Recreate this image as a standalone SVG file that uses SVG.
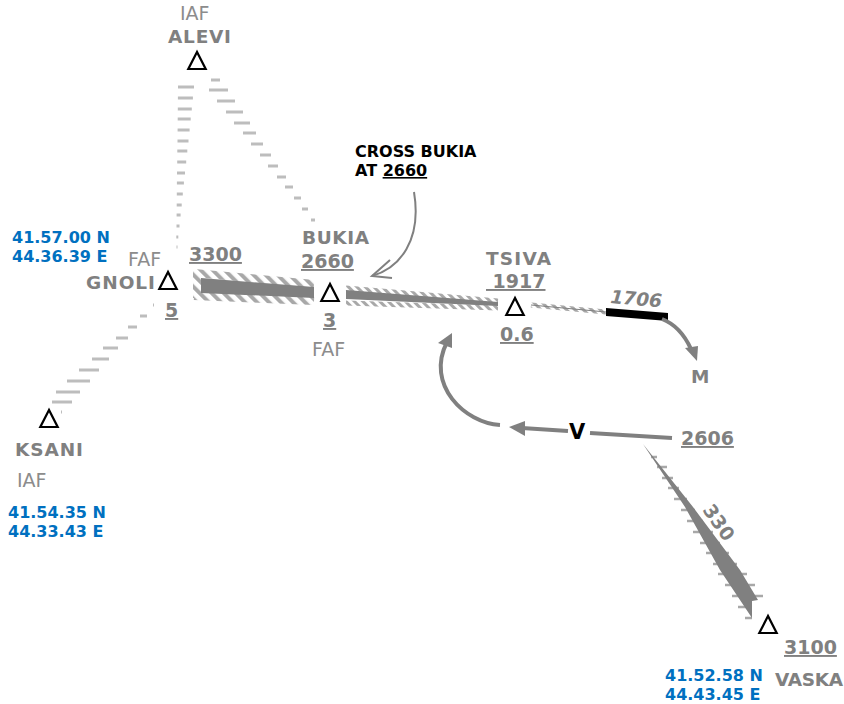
<svg xmlns="http://www.w3.org/2000/svg" width="844" height="704" viewBox="0 0 844 704">
<style>
text{font-family:"DejaVu Sans",Verdana,sans-serif;fill:#808080}
.b{font-weight:bold;font-size:18.5px}
.r{font-size:19px;fill:#8c8c8c}
.u{font-weight:bold;font-size:19px;text-decoration:underline}
.c{font-weight:bold;font-size:16px;fill:#0070c0}
.k{font-weight:bold;font-size:16px;fill:#000}
.t{fill:none;stroke:#000;stroke-width:2.2}
.d{fill:none;stroke:#bdbdbd;stroke-width:3.2}
.g{fill:#808080}
.l{fill:none;stroke:#808080;stroke-linecap:butt}
</style>
<defs>
<pattern id="hatch" width="8.5" height="8.5" patternUnits="userSpaceOnUse" patternTransform="rotate(-45)">
<rect width="4" height="8.5" fill="#a8a8a8"/>
</pattern>
<pattern id="hatch2" width="6" height="6" patternUnits="userSpaceOnUse" patternTransform="rotate(-45)">
<rect width="3" height="6" fill="#a8a8a8"/>
</pattern>
<filter id="soft" x="-5%" y="-20%" width="110%" height="140%"><feGaussianBlur stdDeviation="0.5"/></filter>
<path id="tri" class="t" d="M0,-17 L-8.7,0 H8.7 Z"/>
</defs>
<g id="connectors">
<path class="d" d="M178,87h16M177.9,98h15M177.8,109h14M177.7,119h13M177.6,130h12M177.5,141h11M177.3,151h10M177.2,162h9M177,173h8M176.9,183h7M176.8,194h6M176.7,205h5M176.6,215h4M176.5,226h3M176.3,237h2M176.5,247h1"/>
<path class="d" d="M211,80h9M209,90h19M217,101h18M226,112h17M234,123h16M243,133h13M251,144h12M260,155h11M268,166h10M277,177h9M285,187h8M294,198h7M302,209h6M311,220h4"/>
<path class="d" d="M153,305h1M140,316h7M128,327h9M116,338h12M103,348h15M92,359h17M79,370h20M67,381h23M56,392h24M52,402h20M61,412h1"/>
<g filter="url(#soft)">
<path fill="none" stroke="url(#hatch)" stroke-width="8" d="M194,273L314,284M194,296L314,301M197,271V298"/>
<path fill="none" stroke="url(#hatch2)" stroke-width="5" d="M346,288L498,301M346,303L498,308"/>
<path fill="none" stroke="url(#hatch2)" stroke-width="5" d="M531,305L606,312"/>
</g>
<polygon class="g" points="201,278 314,287 314,298 201,293"/>
<polygon class="g" points="346,290 498,302 498,306 346,299"/>
<path class="l" stroke-width="1" d="M531,305L606,312"/>
<polygon points="606,308 668,313 668,321 606,316" fill="#000"/>
<path class="l" stroke-width="4" d="M662,319C675,324 685,336 691,349"/>
<polygon class="g" points="697,361 685,348 698,346"/>
<path class="l" stroke-width="4" d="M500,425C465,423 425,385 447,342"/>
<polygon class="g" points="452,333 438,343 452,348"/>
<path class="l" stroke-width="4" d="M672,438L590,433M568,431L522,428"/>
<polygon class="g" points="509,427 525,421 525,436"/>
<path class="l" stroke-width="2" d="M414,192C422,240 400,268 372,276"/>
<path class="l" stroke-width="2" d="M390,260L372,276L392,278"/>
<path fill="none" stroke="#a8a8a8" stroke-width="2.6" d="M651,457h6M657,467h10M662,478h11M668,488h11M674,499h13M681,510h14M687,521h16M693,532h20M700,543h20M706,553h23M713,564h24M718,574h29M725,585h30M732,596h31M738,607h10M745,618h7"/>
<polygon class="g" points="643,444 693,507 740,570 758,600 752,601 752,618 720,570 685,507"/>
</g>
<g id="alevi"><text class="r" x="180" y="20">IAF</text><text class="b" x="168" y="43" textLength="63" lengthAdjust="spacing">ALEVI</text><use href="#tri" x="197" y="69"/></g>
<g id="gnoli"><text class="r" x="128" y="266">FAF</text><text class="b" x="86" y="289" textLength="69" lengthAdjust="spacing">GNOLI</text><use href="#tri" x="168" y="289"/><text class="u" x="165" y="317">5</text><text class="u" x="189" y="261">3300</text></g>
<g id="bukia"><text class="b" x="302" y="244" textLength="67" lengthAdjust="spacing">BUKIA</text><text class="u" x="301" y="268">2660</text><use href="#tri" x="330" y="301"/><text class="u" x="323" y="327">3</text><text class="r" x="312" y="356">FAF</text></g>
<g id="tsiva"><text class="b" x="486" y="265" textLength="65" lengthAdjust="spacing">TSIVA</text><text class="u" x="486" y="288">&#160;1917</text><use href="#tri" x="515" y="315"/><text class="u" x="500" y="341">0.6</text></g>
<g id="m"><text class="b" x="691" y="383">M</text></g>
<g id="v"><text x="569" y="439" style="font-weight:bold;font-size:21px;fill:#000">V</text><text class="u" x="681" y="445">2606</text></g>
<g id="ksani"><use href="#tri" x="49" y="427"/><text class="b" x="15" y="456" textLength="68" lengthAdjust="spacing">KSANI</text><text class="r" x="17" y="487">IAF</text><text class="c" x="8" y="518">41.54.35 N</text><text class="c" x="8" y="537">44.33.43 E</text></g>
<g id="vaska"><use href="#tri" x="768" y="633"/><text class="u" x="784" y="654">3100</text><text class="c" x="665" y="681">41.52.58 N</text><text class="c" x="665" y="700">44.43.45 E</text><text class="b" x="775" y="686" textLength="68" lengthAdjust="spacing">VASKA</text><text transform="translate(702,510) rotate(55)" style="font-weight:bold;font-size:19px">330</text></g>
<g id="leg-labels"><text class="c" x="12" y="243">41.57.00 N</text><text class="c" x="12" y="262">44.36.39 E</text><text transform="translate(610,303) rotate(5)" style="font-weight:bold;font-style:italic;font-size:18.5px">1706</text></g>
<g id="note"><text class="k" x="355" y="157">CROSS BUKIA</text><text class="k" x="355" y="176">AT <tspan text-decoration="underline">2660</tspan></text></g>
</svg>
